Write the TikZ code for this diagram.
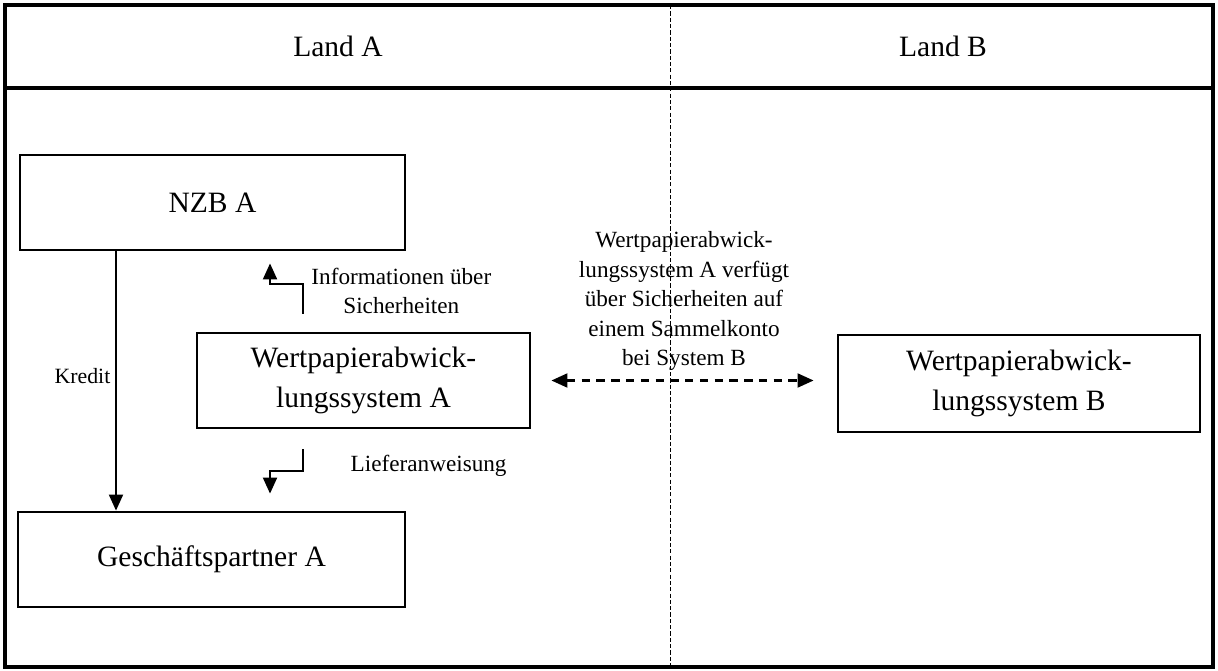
\documentclass[tikz,border=0pt]{standalone}
\usepackage{fontspec}
\setmainfont{Liberation Serif}
\usetikzlibrary{arrows.meta,positioning}

\begin{document}
\begin{tikzpicture}[x=0.025cm,y=-0.025cm,
    sysbox/.style={draw,line width=2pt,minimum height=2.375cm,align=center,
      font=\fontsize{21}{28}\selectfont},
    note/.style={align=center,font=\fontsize{16.5}{21}\selectfont},
    arrow/.style={-{Triangle[length=0.4cm,width=0.35cm]},line width=1.4pt},
    dasharrow/.style={{Triangle[length=0.4cm,width=0.35cm]}-{Triangle[length=0.4cm,width=0.35cm]},
      line width=1.5pt,dash pattern=on 6pt off 4.5pt}
  ]
    \useasboundingbox (0,0) rectangle (1218,671);
    % frame and columns
    \draw[line width=2.5pt] (5,5) rectangle (1213,667);
    \draw[line width=2.5pt] (5,88) -- (1213,88);
    \draw[line width=0.6pt,dash pattern=on 3pt off 1.5pt] (670,5) -- (670,667);
    \node[font=\fontsize{21}{28}\selectfont] (landA) at (338,46) {Land A};
    \node[font=\fontsize{21}{28}\selectfont] (landB) at (943,46) {Land B};
    % boxes
    \node[sysbox,minimum width=9.625cm] (nzb) at (212.5,202.5) {NZB A};
    \node[sysbox,minimum width=8.325cm] (wpA) at (363.5,380.5) {Wertpapierabwick-\\lungssystem A};
    \node[sysbox,minimum width=9.675cm] (gp) at (211.5,559.5) {Geschäftspartner A};
    \node[sysbox,minimum width=9.05cm,minimum height=2.425cm] (wpB) at (1019,383.5) {Wertpapierabwick-\\lungssystem B};
    % arrows
    \coordinate (kx) at (116,0);
    \draw[arrow] (nzb.south -| kx) -- node[left,pos=0.48,font=\fontsize{15.5}{19}\selectfont] {Kredit} (gp.north -| kx);
    \draw[arrow] ([xshift=-1.5125cm,yshift=0.45cm]wpA.north) -- node[note,anchor=west,pos=0.75,xshift=2pt] {Informationen über\\Sicherheiten}
      ++(0,-30) -| ([xshift=1.4375cm,yshift=-0.3cm]nzb.south);
    \draw[arrow] ([xshift=-1.5125cm,yshift=-0.5cm]wpA.south) -- ++(0,22)
      node[note,anchor=west,xshift=1.05cm,yshift=0.15cm] {Lieferanweisung}
      -| ([xshift=1.4625cm,yshift=0.425cm]gp.north);
    \draw[dasharrow,shorten <=0.5cm,shorten >=0.575cm] (wpA.east) --
      node[note,above=0.1cm] {Wertpapierabwick-\\lungssystem A verfügt\\über Sicherheiten auf\\einem Sammelkonto\\bei System B}
      (wpB.west |- wpA.east);
  \end{tikzpicture}
\end{document}
